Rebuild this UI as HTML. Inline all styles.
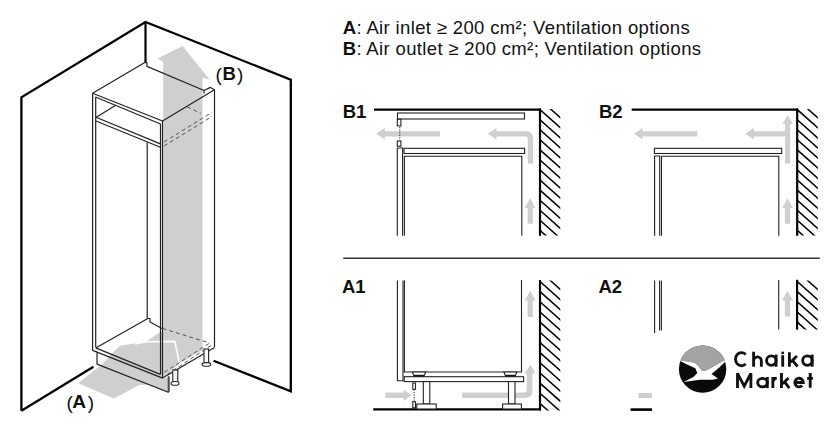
<!DOCTYPE html>
<html><head><meta charset="utf-8">
<style>
html,body{margin:0;padding:0;background:#fff;}
body{width:840px;height:433px;overflow:hidden;position:relative;font-family:"Liberation Sans",sans-serif;}
svg{position:absolute;left:0;top:0;}
.hdr{position:absolute;left:342px;font-size:17px;color:#111;white-space:nowrap;line-height:20px;}
</style></head>
<body>
<svg width="840" height="433" viewBox="0 0 840 433">
<defs>
<clipPath id="hB1"><rect x="540" y="109" width="20.3" height="126.6"/></clipPath>
<clipPath id="hB2"><rect x="797.3" y="109" width="20.5" height="126.6"/></clipPath>
<clipPath id="hA1"><rect x="540" y="280.6" width="20.3" height="130"/></clipPath>
<clipPath id="hA2"><rect x="797.3" y="280.6" width="20.5" height="49"/></clipPath>
</defs>

<!-- ================= LEFT DIAGRAM ================= -->
<!-- walls -->
<polyline points="21.4,410.8 21.4,97.3 145.5,22 290.8,79.7 290.8,391.3 213.5,360.8" fill="none" stroke="#000" stroke-width="2.3" stroke-linejoin="miter"/>
<polyline points="21.4,410.8 93.5,366.8" fill="none" stroke="#000" stroke-width="2.3"/>
<line x1="145.5" y1="22" x2="145.5" y2="62" stroke="#000" stroke-width="2.2"/>

<!-- grey arrow (A)->(B) -->
<polygon fill="#cfcfcf" points="78.1,383.2 113.9,398.5 139.3,385 148,384.6 167.7,392.5 167.7,378 162.8,377.4 180.6,362.8 202.5,350 202.5,77.5 209.6,79.4 182.6,46.1 157.6,58.6 163.2,62 163.2,331.5 159.2,332.7 146,341.6 120,345.8 110.4,355 101,365.5 97.7,367.7"/>
<polyline points="135,344 146,341.8 174.8,341.4 179.6,364" fill="none" stroke="#fff" stroke-width="1.6"/>

<!-- cabinet lines -->
<g fill="none" stroke="#222" stroke-width="1.2" stroke-linejoin="round">
 <!-- top panel -->
 <polyline points="92.6,93.3 145.2,62.3 147,62.8 147,66.4 204.1,90.5 210.4,87.4 214.5,89.8 162.5,121 92.6,93.3"/>
 <line x1="204.1" y1="90.5" x2="204.1" y2="93.5"/>
 <!-- top panel thickness front -->
 <line x1="95.5" y1="97" x2="160.5" y2="124"/>
 <!-- left front post double -->
 <line x1="92.6" y1="93.3" x2="92.6" y2="350.4"/>
 <line x1="95.7" y1="97" x2="95.7" y2="347"/>
 <!-- right front post double -->
 <line x1="160.5" y1="124" x2="160.5" y2="374.4"/>
 <line x1="162.5" y1="121" x2="162.5" y2="378.1"/>
 <!-- right side back -->
 <line x1="214.5" y1="89.5" x2="214.5" y2="347"/>
 <!-- shelf -->
 <line x1="96" y1="117.3" x2="161" y2="144.1"/>
 <line x1="96" y1="121" x2="161" y2="147.5"/>
 <line x1="96.3" y1="117.3" x2="115.7" y2="105.3"/>
 <!-- inner back vertical -->
 <line x1="147.2" y1="142.3" x2="147.2" y2="318.5"/>
 <!-- bottom panel -->
 <polyline points="95.7,348 147.8,318.5 150,318.5 150,322 162,328.5"/>
 <line x1="95.7" y1="347.9" x2="160.3" y2="374.4"/>
 <line x1="92.6" y1="350.4" x2="162.6" y2="378.1"/>
 <!-- plinth -->
 <polyline points="97,352.6 97,364.1 168.3,392.2 168.3,376.3"/>
 <line x1="169.3" y1="376.5" x2="169.3" y2="392" stroke="#777" stroke-width="1.3"/>
 <!-- right side bottom -->
 <line x1="162.5" y1="378.1" x2="214.5" y2="347.5"/>
</g>
<!-- dashed hidden lines -->
<g fill="none" stroke="#555" stroke-width="1" stroke-dasharray="4,3">
 <line x1="164" y1="142" x2="212" y2="112.3"/>
 <line x1="164" y1="146" x2="212" y2="116.5"/>
 <line x1="187" y1="106.8" x2="200.8" y2="113.3"/>
 <line x1="162.5" y1="328.5" x2="208.5" y2="342.7"/>
 <line x1="164.4" y1="372.2" x2="211" y2="342.2"/>
 <line x1="167" y1="374.5" x2="211" y2="345.5"/>
</g>
<!-- legs -->
<g fill="#fff" stroke="#222" stroke-width="1.1">
 <rect x="172.8" y="370" width="5" height="13"/>
 <ellipse cx="175" cy="383.4" rx="4" ry="1.9"/>
 <rect x="204" y="349" width="4.6" height="15"/>
 <ellipse cx="206.4" cy="364.4" rx="4.3" ry="1.8"/>
</g>

<!-- ================= RIGHT PANELS ================= -->
<!-- separator -->
<line x1="343.3" y1="258.2" x2="819.8" y2="258.2" stroke="#333" stroke-width="1.5"/>

<!-- grey arrows right panels -->
<g fill="#cfcfcf">
 <!-- B1 left arrow -->
 <polygon points="376.2,133.8 384.8,128 384.8,131.2 440,131.2 440,136.4 384.8,136.4 384.8,139.6"/>
 <!-- B1 right bent arrow -->
 <path d="M487.8,133.8 L496.4,128 L496.4,131.2 L526,131.2 Q533,131.2 533,138 L533,163.6 L527.8,163.6 L527.8,138.8 Q527.8,136.4 525.4,136.4 L496.4,136.4 L496.4,139.6 Z"/>
 <!-- B1 small up arrow -->
 <polygon points="530.2,198 535.6,208.3 532.8,208.3 532.8,223.8 527.6,223.8 527.6,208.3 524.8,208.3"/>
 <!-- B2 left arrow -->
 <polygon points="634,133.8 642.6,128 642.6,131.2 697.5,131.2 697.5,136.4 642.6,136.4 642.6,139.6"/>
 <!-- B2 T arrow -->
 <polygon points="745.3,133.8 753.9,127.8 753.9,131.2 785,131.2 785,124 782.5,124 787.6,115.2 793,124 790.2,124 790.2,163.6 785,163.6 785,136.4 753.9,136.4 753.9,139.6"/>
 <!-- B2 small up arrow -->
 <polygon points="787.5,198 793,208.3 790.1,208.3 790.1,223.8 784.9,223.8 784.9,208.3 782,208.3"/>
 <!-- A1 left arrow into plinth -->
 <polygon points="411.2,395.3 403.5,389.6 403.5,392.6 385.3,392.6 385.3,398 403.5,398 403.5,400.9"/>
 <!-- A1 bent arrow -->
 <path d="M462,392.4 L524.5,392.4 Q526.8,392.4 526.8,390 L526.8,373.5 L524.3,373.5 L530.6,364.8 L535.5,373.5 L532.4,373.5 L532.4,391.5 Q532.4,398 525.5,398 L462,398 Z"/>
 <!-- A1 small up arrow -->
 <polygon points="530.2,290.8 535.6,300.5 532.8,300.5 532.8,316.9 527.6,316.9 527.6,300.5 524.8,300.5"/>
 <!-- A2 small up arrow -->
 <polygon points="787.5,290.8 793,300.5 790.1,300.5 790.1,316.6 784.9,316.6 784.9,300.5 782,300.5"/>
</g>

<!-- ---- B1 ---- -->
<g>
 <line x1="374" y1="109.6" x2="541" y2="109.6" stroke="#000" stroke-width="2.2"/>
 <line x1="540" y1="108.5" x2="540" y2="235.8" stroke="#000" stroke-width="2.2"/>
 <g clip-path="url(#hB1)" stroke="#000" stroke-width="1.5">
  <path d="M540,89.54 l22,19.6 M540,99.60 l22,19.6 M540,109.66 l22,19.6 M540,119.72 l22,19.6 M540,129.78 l22,19.6 M540,139.84 l22,19.6 M540,149.90 l22,19.6 M540,159.96 l22,19.6 M540,170.02 l22,19.6 M540,180.08 l22,19.6 M540,190.14 l22,19.6 M540,200.20 l22,19.6 M540,210.26 l22,19.6 M540,220.32 l22,19.6 M540,230.38 l22,19.6"/>
 </g>
 <g fill="#fff" stroke="#222" stroke-width="1.1">
  <rect x="397.5" y="113" width="127" height="6"/>
  <rect x="397.3" y="119.3" width="3.6" height="6.6"/>
  <rect x="397.3" y="141" width="3.6" height="5.2"/>
  <rect x="404" y="148.3" width="120.6" height="5.2"/>
 </g>
 <line x1="399.8" y1="127" x2="399.8" y2="140.5" stroke="#222" stroke-width="1" stroke-dasharray="1.2,1.4"/>
 <g fill="none" stroke="#222" stroke-width="1.1">
  <polyline points="397.3,235.7 397.3,148 402.6,148 402.6,235.7"/>
  <polyline points="404.4,235.7 404.4,156.2 521.8,156.2 521.8,235.7"/>
 </g>
</g>

<!-- ---- B2 ---- -->
<g>
 <line x1="631.7" y1="109.6" x2="798" y2="109.6" stroke="#000" stroke-width="2.2"/>
 <line x1="797.2" y1="108.5" x2="797.2" y2="235.8" stroke="#000" stroke-width="2.2"/>
 <g clip-path="url(#hB2)" stroke="#000" stroke-width="1.5">
  <path d="M797.3,89.54 l22,19.6 M797.3,99.60 l22,19.6 M797.3,109.66 l22,19.6 M797.3,119.72 l22,19.6 M797.3,129.78 l22,19.6 M797.3,139.84 l22,19.6 M797.3,149.90 l22,19.6 M797.3,159.96 l22,19.6 M797.3,170.02 l22,19.6 M797.3,180.08 l22,19.6 M797.3,190.14 l22,19.6 M797.3,200.20 l22,19.6 M797.3,210.26 l22,19.6 M797.3,220.32 l22,19.6 M797.3,230.38 l22,19.6"/>
 </g>
 <g fill="#fff" stroke="#222" stroke-width="1.1">
  <rect x="654.4" y="148.3" width="127.3" height="5.2"/>
 </g>
 <g fill="none" stroke="#222" stroke-width="1.1">
  <polyline points="654.6,235.7 654.6,156 659.7,156 659.7,235.7"/>
  <polyline points="661.5,235.7 661.5,156.2 778.8,156.2 778.8,235.7"/>
 </g>
</g>

<!-- ---- A1 ---- -->
<g>
 <line x1="373.2" y1="409.3" x2="541" y2="409.3" stroke="#000" stroke-width="2.2"/>
 <line x1="540" y1="280" x2="540" y2="410.4" stroke="#000" stroke-width="2.2"/>
 <g clip-path="url(#hA1)" stroke="#000" stroke-width="1.5">
  <path d="M540,261.13 l22,19.6 M540,271.30 l22,19.6 M540,281.47 l22,19.6 M540,291.64 l22,19.6 M540,301.81 l22,19.6 M540,311.98 l22,19.6 M540,322.15 l22,19.6 M540,332.32 l22,19.6 M540,342.49 l22,19.6 M540,352.66 l22,19.6 M540,362.83 l22,19.6 M540,373.00 l22,19.6 M540,383.17 l22,19.6 M540,393.34 l22,19.6 M540,403.51 l22,19.6"/>
 </g>
 <g fill="none" stroke="#222" stroke-width="1.1">
  <polyline points="397.4,280.5 397.4,380.7 403,380.7 403,280.5"/>
  <polyline points="404.4,280.5 404.4,372 521.5,372 521.5,280"/>
 </g>
 <g fill="#fff" stroke="#222" stroke-width="1.1">
  <rect x="404.2" y="376.7" width="119.4" height="4.9"/>
  <polygon points="412.3,372 425.7,372 424,376 414,376"/>
  <polygon points="503.9,372 516.8,372 515.2,376 505.5,376"/>
  <line x1="414" y1="375.6" x2="424" y2="375.6" stroke="#111" stroke-width="1.6"/>
  <line x1="505.5" y1="375.6" x2="515.2" y2="375.6" stroke="#111" stroke-width="1.6"/>
  <rect x="423.3" y="381.6" width="6.5" height="22.4"/>
  <rect x="508.5" y="381.6" width="6.5" height="22.4"/>
  <rect x="416.8" y="404" width="19.4" height="5"/>
  <rect x="502.6" y="404" width="18.8" height="5"/>
  <rect x="412.8" y="383" width="2.7" height="6.3"/>
  <rect x="412.8" y="401.7" width="2.7" height="6.1"/>
 </g>
 <line x1="414.1" y1="389.5" x2="414.1" y2="401.5" stroke="#222" stroke-width="1" stroke-dasharray="1.2,1.3"/>
</g>

<!-- ---- A2 ---- -->
<g>
 <line x1="797.1" y1="279.8" x2="797.1" y2="329.6" stroke="#000" stroke-width="2.2"/>
 <g clip-path="url(#hA2)" stroke="#000" stroke-width="1.5">
  <path d="M797.3,261.13 l22,19.6 M797.3,271.30 l22,19.6 M797.3,281.47 l22,19.6 M797.3,291.64 l22,19.6 M797.3,301.81 l22,19.6 M797.3,311.98 l22,19.6 M797.3,322.15 l22,19.6 M797.3,332.32 l22,19.6"/>
 </g>
 <g fill="none" stroke="#222" stroke-width="1.1">
  <line x1="654.6" y1="280.5" x2="654.6" y2="333.5"/>
  <line x1="659.6" y1="280.5" x2="659.6" y2="330.5"/>
  <line x1="661.4" y1="280.5" x2="661.4" y2="330.5"/>
  <line x1="778.7" y1="280" x2="778.7" y2="329.6"/>
 </g>
 <line x1="630.6" y1="409.6" x2="652" y2="409.6" stroke="#000" stroke-width="2.6"/>
 <rect x="638.5" y="393" width="13.5" height="5" fill="#cfcfcf"/>
</g>

<!-- ================= LOGO OVERLAY ================= -->
<rect x="652" y="333" width="188" height="100" fill="#fff"/>
<defs><clipPath id="circ"><circle cx="702.6" cy="369.1" r="23.7"/></clipPath></defs>
<g clip-path="url(#circ)">
 <rect x="670" y="340" width="70" height="60" fill="#0a0a0a"/>
 <polygon fill="#a3a3a3" points="670,360.1 679.8,360.1 686.9,361.4 694.7,362.7 698.6,366.2 701.8,370.5 705,371 712.8,366.9 720.6,362.3 725.1,360.1 740,360 740,340 670,340"/>
 <polygon fill="#fff" points="677,359.6 679.8,360.1 686.9,361.4 694.7,362.7 698.6,366.2 701.8,370.5 705,371 712.8,366.9 720.6,362.3 725.1,360.1 728,359 719.3,367.5 711.5,374 718,378.5 712.8,379.8 699.9,379.8 683.7,382.1 693.4,377 697.3,373.1 695.3,368.2 688.2,365"/>
</g>
<g fill="none" stroke="#111" stroke-width="2.85" stroke-linecap="butt">
 <path d="M745.7,354.5 A6,6.6 0 1 0 745.7,363.9"/>
 <path d="M753.6,351.8 V366.8 M753.6,361 A3.88,4.3 0 0 1 761.35,361 V366.8"/>
 <circle cx="771.3" cy="360.6" r="4.75"/><path d="M776.1,354.6 V366.7"/>
 <path d="M782.7,355.2 V366.7"/>
 <path d="M789.4,352.2 V366.7 M790.6,362.2 L796.9,355.9 M792.5,360.4 L797.6,366.7"/>
 <circle cx="807.4" cy="360.6" r="4.75"/><path d="M812.2,354.6 V366.7"/>
 <path d="M737.5,388 V373.3 L744.2,386.2 L750.9,373.3 V388"/>
 <ellipse cx="762.5" cy="382.6" rx="4.8" ry="4.3"/><path d="M767.3,377 V388.1"/>
 <path d="M772.85,377 V388.1 M772.85,382.6 Q773.3,378.2 776.7,378.2"/>
 <path d="M781.45,373 V388.1 M782.6,383.8 L788.5,377.9 M784.6,381.9 L789.3,388.1"/>
 <path d="M794.8,382.5 H803.3 A4.25,4.35 0 1 0 802.1,385.6"/>
 <path d="M810.2,373.1 V387.8 M807.2,378.3 H812.9"/>
</g>
<circle cx="782.7" cy="352.9" r="1.4" fill="#111"/>
<!-- labels -->
<g font-family="Liberation Sans" font-weight="bold" font-size="18.5" fill="#111">
 <text x="342.7" y="118">B1</text>
 <text x="599" y="118">B2</text>
 <text x="342" y="293.4">A1</text>
 <text x="598.5" y="293.4">A2</text>
</g>
<g font-family="Liberation Sans" font-size="19" fill="#111">
 <text x="215.6" y="81.3">(</text><text x="222.5" y="80.4" font-weight="bold" font-size="18.5">B</text><text x="237" y="81.3">)</text>
 <text x="66.4" y="408.7">(</text><text x="72.3" y="408.1" font-weight="bold" font-size="18.5" textLength="13.8" lengthAdjust="spacingAndGlyphs">A</text><text x="87.8" y="408.7">)</text>
</g>
<g font-family="Liberation Sans" font-size="18.5" fill="#111">
 <text x="342.7" y="33.7" textLength="347" lengthAdjust="spacing"><tspan font-weight="bold">A</tspan>: Air inlet ≥ 200 cm²; Ventilation options</text>
 <text x="342.7" y="55" textLength="358.4" lengthAdjust="spacing"><tspan font-weight="bold">B</tspan>: Air outlet ≥ 200 cm²; Ventilation options</text>
</g>
</svg>


</body></html>
